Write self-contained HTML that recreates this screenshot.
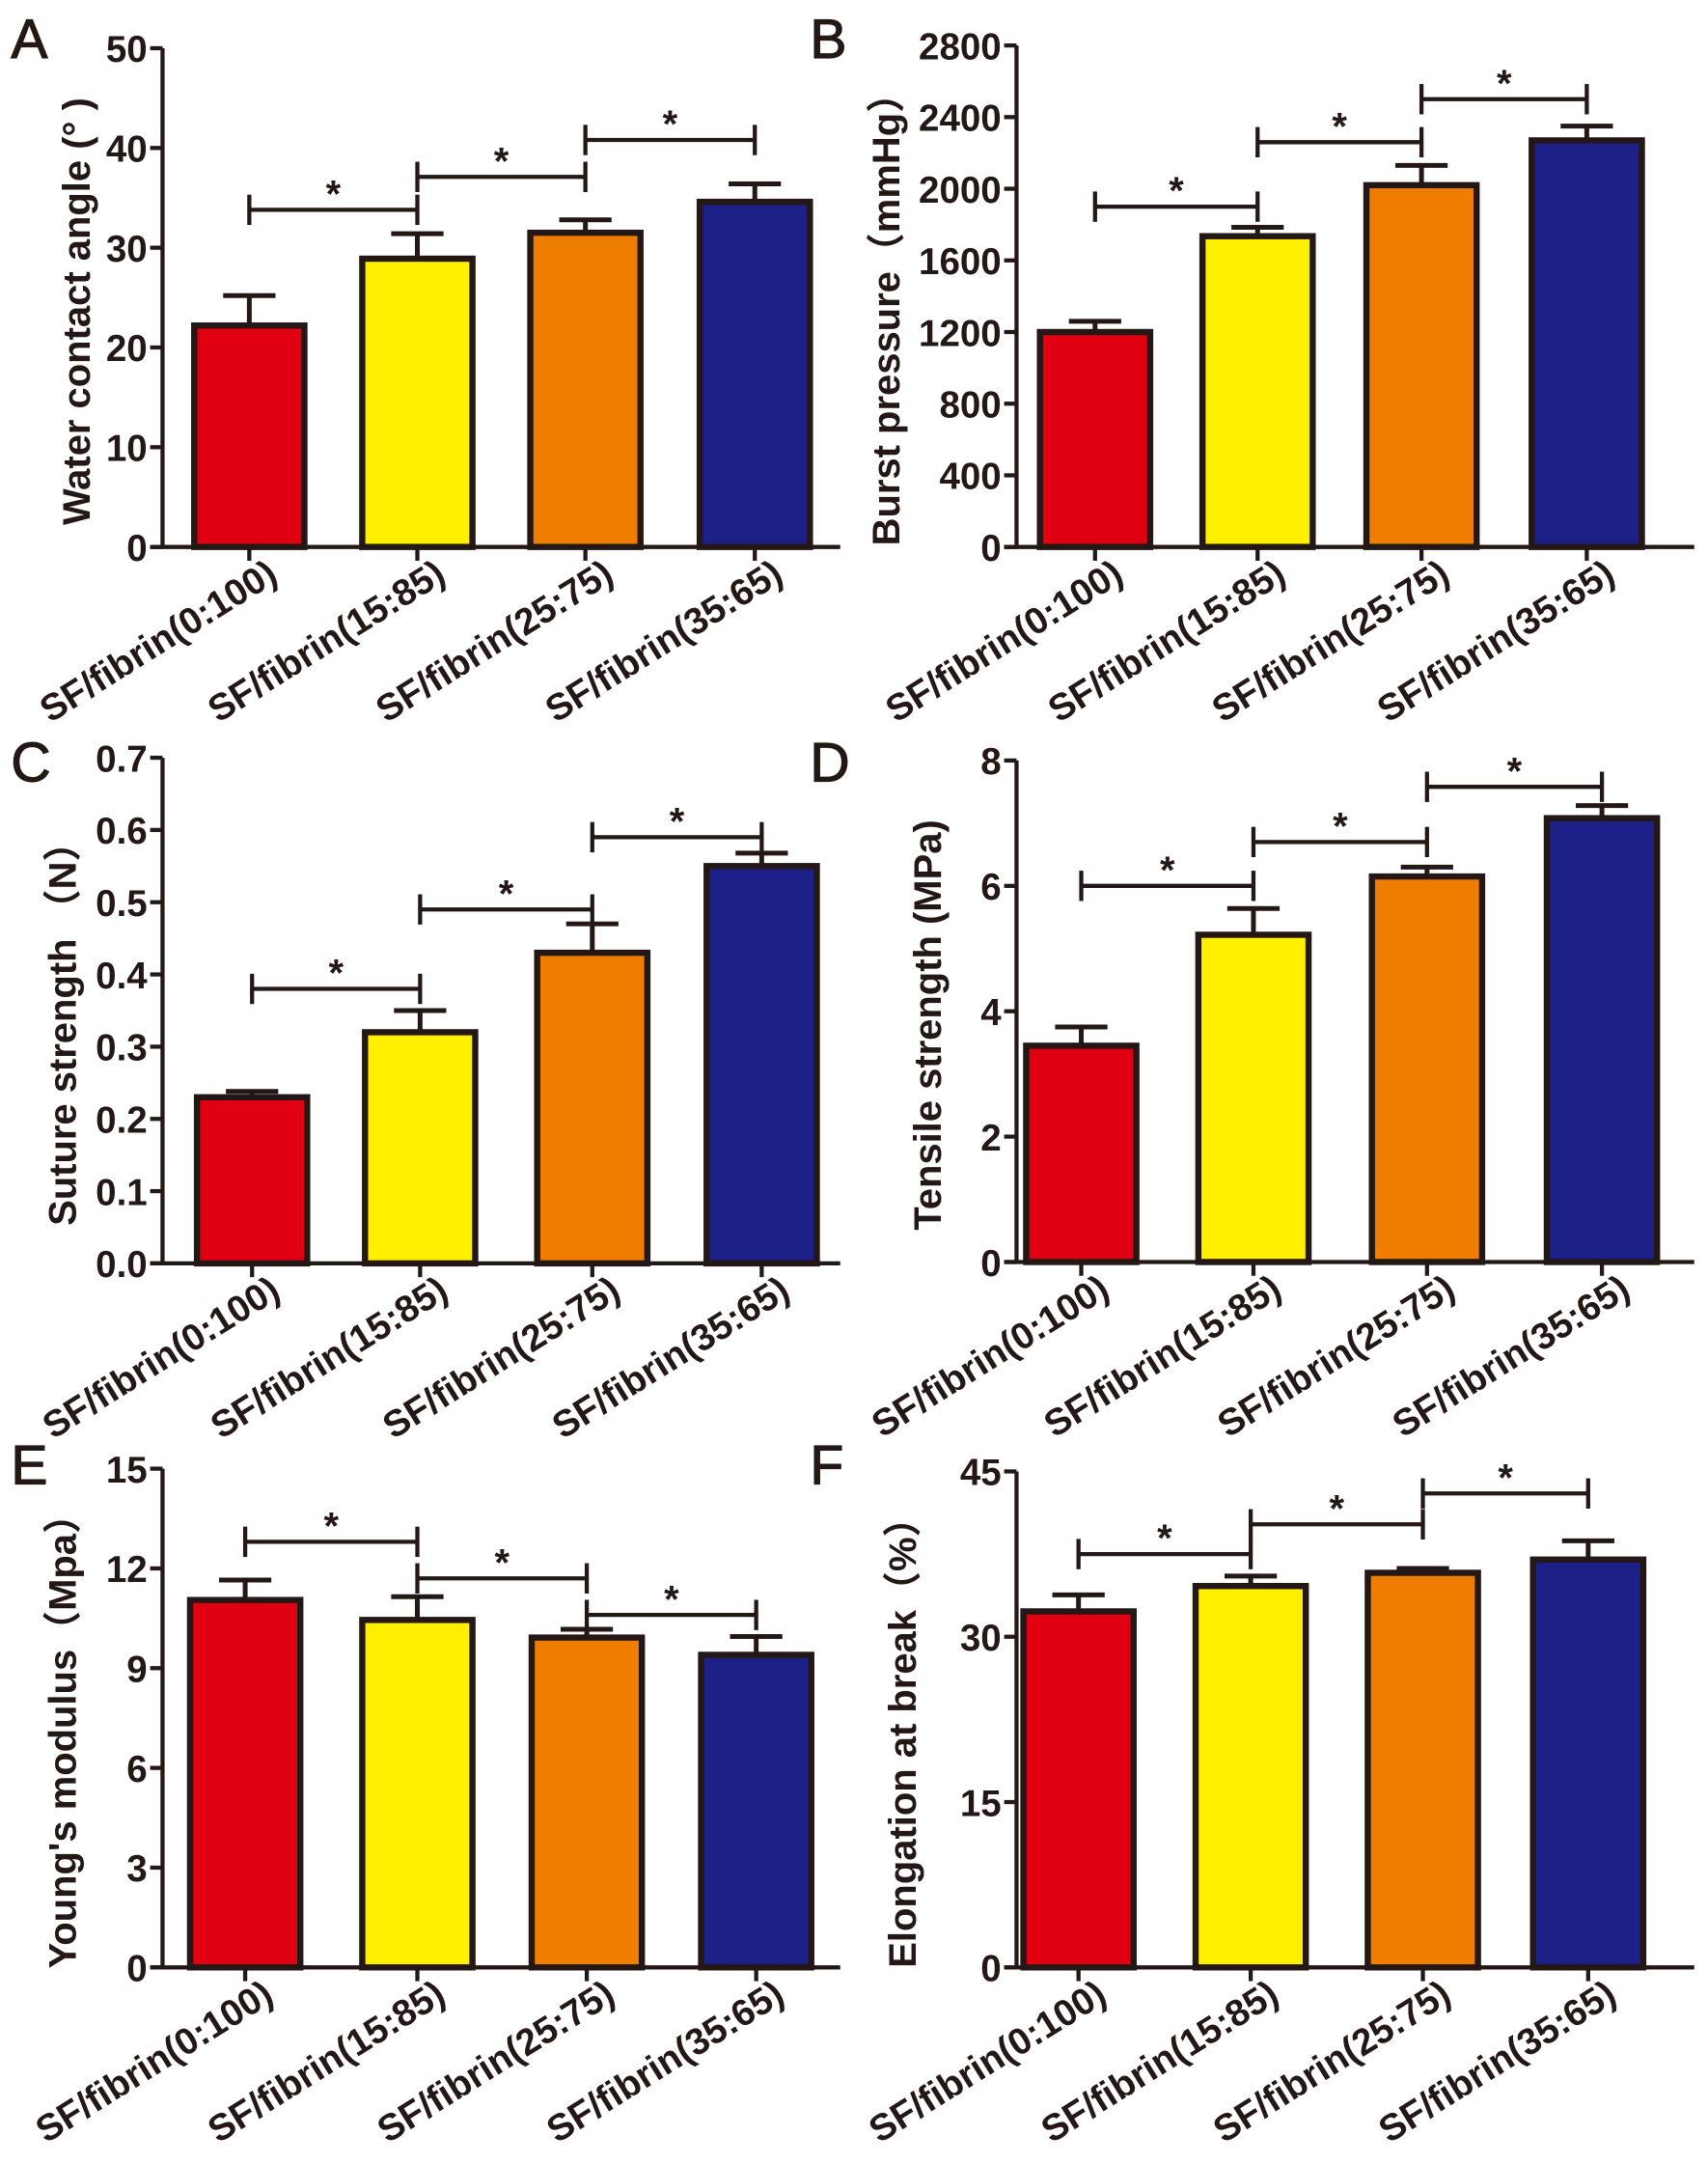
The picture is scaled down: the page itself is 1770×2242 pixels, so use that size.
<!DOCTYPE html>
<html><head><meta charset="utf-8"><style>
html,body{margin:0;padding:0;background:#fff}
svg{display:block}
text{font-family:"Liberation Sans",Arial,"Noto Sans CJK SC",sans-serif;fill:#231815}
</style></head><body>
<svg id="fig" xmlns="http://www.w3.org/2000/svg" width="1770" height="2242" viewBox="0 0 1240 1570.7" preserveAspectRatio="none"></svg>
<script>
const categories = ["SF/fibrin(0:100)","SF/fibrin(15:85)","SF/fibrin(25:75)","SF/fibrin(35:65)"];
const barColors = ["#e10012","#fff000","#ee7d00","#1d2087"];
// Panel A
const valuesA = [22.2, 28.9, 31.5, 34.6];
const errorsA = [3.0, 2.5, 1.3, 1.8];
const ticksA = [0,10,20,30,40,50];
const bracketsA = [33.8, 37.1, 40.8];
// Panel B
const valuesB = [1200, 1735, 2020, 2270];
const errorsB = [60, 50, 110, 80];
const ticksB = [0,400,800,1200,1600,2000,2400,2800];
const bracketsB = [1900, 2260, 2500];
// Panel C
const valuesC = [0.23, 0.32, 0.43, 0.55];
const errorsC = [0.008, 0.03, 0.04, 0.018];
const ticksC = ["0.0","0.1","0.2","0.3","0.4","0.5","0.6","0.7"];
const bracketsC = [0.38, 0.49, 0.59];
// Panel D
const valuesD = [3.45, 5.22, 6.15, 7.08];
const errorsD = [0.3, 0.42, 0.15, 0.2];
const ticksD = [0,2,4,6,8];
const bracketsD = [6.0, 6.7, 7.58];
// Panel E
const valuesE = [11.05, 10.45, 9.92, 9.4];
const errorsE = [0.6, 0.7, 0.25, 0.55];
const ticksE = [0,3,6,9,12,15];
const bracketsE = [12.8, 11.7, 10.6];
// Panel F
const valuesF = [32.3, 34.6, 35.8, 37.0];
const errorsF = [1.5, 0.9, 0.4, 1.7];
const ticksF = [0,15,30,45];
const bracketsF = [37.5, 40.2, 43.0];

const panels = [
 {id:"a",letter:"A",lx:8,ly:42,ax:118,top:35,zero:397,max:50,centers:[181,303,425,548],vals:valuesA,errs:errorsA,ticks:ticksA,br:bracketsA,title:"Water contact angle (° )",tx:55},
 {id:"b",letter:"B",lx:588,ly:42,ax:738,top:33,zero:397,max:2800,centers:[795,913,1032,1152],vals:valuesB,errs:errorsB,ticks:ticksB,br:bracketsB,title:"Burst pressure（mmHg）",tx:643},
 {id:"c",letter:"C",lx:8,ly:567,ax:118,top:550,zero:917,max:0.7,centers:[183,305,430,553],vals:valuesC,errs:errorsC,ticks:ticksC,br:bracketsC,title:"Suture strength （N）",tx:45},
 {id:"d",letter:"D",lx:588,ly:567,ax:738,top:552,zero:916,max:8,centers:[785,910,1036,1163],vals:valuesD,errs:errorsD,ticks:ticksD,br:bracketsD,title:"Tensile strength (MPa)",tx:673},
 {id:"e",letter:"E",lx:8,ly:1077,ax:118,top:1066,zero:1428,max:15,centers:[178,303,426,549],vals:valuesE,errs:errorsE,ticks:ticksE,br:bracketsE,title:"Young's modulus（Mpa）",tx:45},
 {id:"f",letter:"F",lx:588,ly:1077,ax:738,top:1068,zero:1428,max:45,centers:[783,908,1033,1153],vals:valuesF,errs:errorsF,ticks:ticksF,br:bracketsF,title:"Elongation at break（%）",tx:655}
];
const NS="http://www.w3.org/2000/svg";
const svg=document.getElementById("fig");
function mk(tag,attrs,parent){const e=document.createElementNS(NS,tag);for(const k in attrs)e.setAttribute(k,attrs[k]);(parent||svg).appendChild(e);return e;}
const INK="#231815";
panels.forEach(p=>{
 const g=mk("g",{});
 
 
 const y=v=>p.zero-(v/p.max)*(p.zero-p.top);
 const L=mk("text",{x:p.lx,y:p.ly,"font-size":40,"stroke":INK,"stroke-width":0.8},g);L.textContent=p.letter;
 
 
 const ya=mk("line",{x1:p.ax,y1:p.top,x2:p.ax,y2:p.zero,stroke:INK,"stroke-width":3},g);
 
 
 const xa=mk("line",{x1:p.ax-9,y1:p.zero,x2:p.ax+492,y2:p.zero,stroke:INK,"stroke-width":3},g);
 
 
 p.ticks.forEach(t=>{
  const v=parseFloat(t);const ty=y(v);
  mk("line",{x1:p.ax-9,y1:ty,x2:p.ax,y2:ty,stroke:INK,"stroke-width":3},g);
  const tt=mk("text",{x:p.ax-11,y:ty+10,"font-size":27,"font-weight":"bold","text-anchor":"end"},g);
  tt.textContent=t;
  
  
 });
 const yt=mk("text",{x:0,y:0,"font-size":28,"font-weight":"bold","text-anchor":"middle",transform:`translate(${p.tx+10},${(p.top+p.zero)/2+10}) rotate(-90)`},g);
 yt.textContent=p.title;
 
 
 p.vals.forEach((v,i)=>{
  const cx=p.centers[i];const by=y(v);const ey=y(v+p.errs[i]);
  mk("line",{x1:cx,y1:by,x2:cx,y2:ey,stroke:INK,"stroke-width":3.5},g);
  mk("line",{x1:cx-19,y1:ey,x2:cx+19,y2:ey,stroke:INK,"stroke-width":3.5},g);
  const r=mk("rect",{x:cx-40,y:by,width:80,height:p.zero-by,fill:barColors[i],stroke:INK,"stroke-width":4.5},g);
  
  
  mk("line",{x1:cx,y1:p.zero,x2:cx,y2:p.zero+10,stroke:INK,"stroke-width":3},g);
  const cl=mk("text",{x:0,y:0,"font-size":27,"font-weight":"bold","text-anchor":"end",transform:`translate(${cx+22},${p.zero+24}) rotate(-32)`},g);
  cl.textContent=categories[i];
  
  
 });
 p.br.forEach((b,i)=>{
  const x1=p.centers[i],x2=p.centers[i+1],by=y(b);
  const bg=mk("g",{},g);
  
  
  mk("line",{x1:x1,y1:by,x2:x2,y2:by,stroke:INK,"stroke-width":3},bg);
  mk("line",{x1:x1,y1:by-11,x2:x1,y2:by+11,stroke:INK,"stroke-width":3},bg);
  mk("line",{x1:x2,y1:by-11,x2:x2,y2:by+11,stroke:INK,"stroke-width":3},bg);
  const s=mk("text",{x:(x1+x2)/2,y:by-2,"font-size":28,"font-weight":"bold","text-anchor":"middle"},bg);
  s.textContent="*";
 });
});
</script>
</body></html>
